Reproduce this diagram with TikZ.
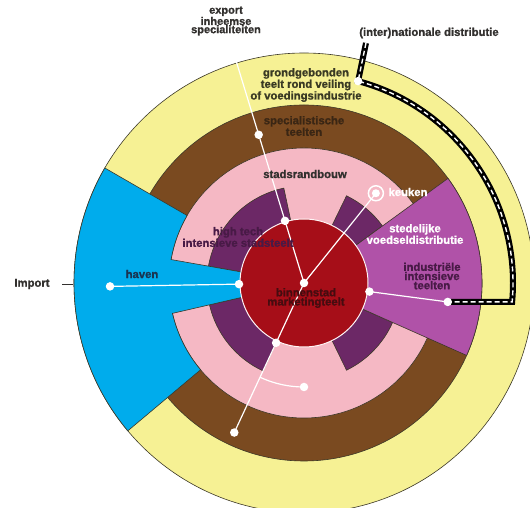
\documentclass[tikz,border=0pt]{standalone}
\usepackage{fontspec}
\setmainfont{Liberation Sans}
\newfontfamily\heavyfont{Liberation Sans Bold}[FakeBold=1.2]
\usetikzlibrary{calc}

\definecolor{ringyellow}{RGB}{246,241,148}
\definecolor{ringbrown}{RGB}{122,74,32}
\definecolor{ringpink}{RGB}{245,184,196}
\definecolor{ringplum}{RGB}{108,40,102}
\definecolor{corered}{RGB}{166,14,24}
\definecolor{harbour}{RGB}{0,172,236}
\definecolor{distmag}{RGB}{176,82,168}
\definecolor{edge}{RGB}{60,56,40}
\definecolor{inkgrey}{RGB}{50,48,46}
\definecolor{inkolive}{RGB}{58,58,36}
\definecolor{inkbrown}{RGB}{58,38,20}
\definecolor{inkplum}{RGB}{72,26,70}
\definecolor{inknavy}{RGB}{26,52,80}
\definecolor{inkred}{RGB}{70,12,16}

\tikzset{
  zone/.style={draw=edge, line width=0.6pt},
  link/.style={draw=white, line width=1.2pt},
  dot/.style={circle, fill=white, inner sep=0pt, minimum size=8.5pt},
  lbl/.style={font=\heavyfont\fontsize{11.3}{9.2}\selectfont, align=center, inner sep=0pt},
  road/.style={draw=black, line width=6pt, line join=miter,
    postaction={draw=white, line width=1.4pt, dash pattern=on 5pt off 3pt}}
}

\begin{document}
\begin{tikzpicture}[x=1pt,y=1pt]
\useasboundingbox (0,0) rectangle (530,508);
\clip (0,0) rectangle (530,508);

\begin{scope}[shift={(304,225)}]
  % concentric rings
  \filldraw[fill=ringyellow, zone] (0,0) circle[radius=230pt];
  \filldraw[fill=ringbrown, zone] (0,0) circle[radius=178pt];
  \filldraw[fill=ringpink, zone] (0,0) circle[radius=135pt];

  % plum sectors of the inner ring
  \foreach \a/\b in {102/170, 193/245, 296/336, 36/64}{
    \filldraw[fill=ringplum, zone] (\a:64pt) -- (\a:97pt)
      arc[start angle=\a, end angle=\b, radius=97pt] -- (\b:64pt) -- cycle;
  }

  % harbour wedge
  \filldraw[fill=harbour, zone] (150:230pt)
    arc[start angle=150, end angle=220, radius=230pt] -- (220:135pt)
    arc[start angle=220, end angle=193, radius=135pt] -- (193:60pt)
    arc[start angle=193, end angle=170, radius=60pt] -- (170:135pt)
    arc[start angle=170, end angle=150, radius=135pt] -- cycle;

  % distribution wedge
  \filldraw[fill=distmag, zone] (-24:60pt) -- (-24:178pt)
    arc[start angle=-24, end angle=36, radius=178pt] -- (36:60pt) -- cycle;

  % city core
  \filldraw[fill=corered, draw=white!85!pink, line width=1pt] (0,0) circle[radius=64pt];

  % positions of the connector points
  \coordinate (ctr) at (0,0);
  \coordinate (expEnd) at (107:255pt);
  \coordinate (expA) at (107:155pt);
  \coordinate (expB) at (107:65pt);
  \coordinate (kitchen) at (51.3:115pt);
  \coordinate (southA) at (245:66pt);
  \coordinate (southB) at (245:165pt);
  \coordinate (southFork) at (245:104pt);
  \coordinate (southC) at (270:104pt);
  \coordinate (westA) at (181:65pt);
  \coordinate (westB) at (181:194pt);
  \coordinate (eastA) at (-7.5:66pt);
  \coordinate (eastB) at (-7.5:145pt);
  \coordinate (roadTop) at (62,240);
  \coordinate (roadBend) at (75:209pt);

  % road of (inter)national distribution
  \draw[road] (roadTop) -- (roadBend)
    arc[start angle=75, end angle=-5.2, radius=209pt] -- (eastB);

  % white connectors
  \draw[link] (expEnd) -- (ctr);
  \draw[link] (ctr) -- (kitchen);
  \draw[link] (ctr) -- (southB);
  \draw[link] (southFork) arc[start angle=245, end angle=270, radius=104pt];
  \draw[link] (westB) -- (westA);
  \draw[link] (eastA) -- (eastB);

  % dots
  \node[dot] (nCtr) at (ctr) {};
  \node[dot] (nExpA) at (expA) {};
  \node[dot] (nExpB) at (expB) {};
  \node[dot] (nSouthA) at (southA) {};
  \node[dot] (nSouthB) at (southB) {};
  \node[dot] (nSouthC) at (southC) {};
  \node[dot] (nWestA) at (westA) {};
  \node[dot] (nWestB) at (westB) {};
  \node[dot] (nEastA) at (eastA) {};
  \node[dot] (nEastB) at (eastB) {};
  \node[dot] (nBend) at (roadBend) {};
  \node[circle, draw=white, line width=1.5pt, minimum size=15pt, inner sep=0pt] (nKitchenRing) at (kitchen) {};
  \node[dot, minimum size=8pt] (nKitchen) at (kitchen) {};
\end{scope}

% labels
\node[lbl, text=inkgrey, font=\heavyfont\fontsize{11}{8.2}\selectfont] (lExport) at (226,487) {export\\inheemse\\specialiteiten};
\node[lbl, text=inkgrey] (lInter) at (429,475) {(inter)nationale distributie};
\node[lbl, text=inkolive] (lGrond) at (306,423) {grondgebonden\\teelt rond veiling\\of voedingsindustrie};
\node[lbl, text=inkbrown] (lSpec) at (304,382) {specialistische\\teelten};
\node[lbl, text=inkgrey] (lRand) at (305,334) {stadsrandbouw};
\node[lbl, text=inkplum] (lHigh) at (238,271) {high tech\\intensieve stadsteelt};
\node[lbl, text=white] (lKeuken) at (408,316) {keuken};
\node[lbl, text=white] (lStede) at (415,274) {stedelijke\\voedseldistributie};
\node[lbl, text=inkplum] (lIndu) at (432,232) {industriële\\intensieve\\teelten};
\node[lbl, text=inknavy] (lHaven) at (142,234) {haven};
\node[lbl, text=inkgrey] (lImport) at (32,224) {Import};
\node[lbl, text=inkred] (lBinnen) at (306,210) {binnenstad\\marketingteelt};

\coordinate (dashA) at (62,224);
\coordinate (dashB) at (73,224);
\draw[inkgrey, line width=0.8pt] (dashA) -- (dashB);
\end{tikzpicture}
\end{document}
